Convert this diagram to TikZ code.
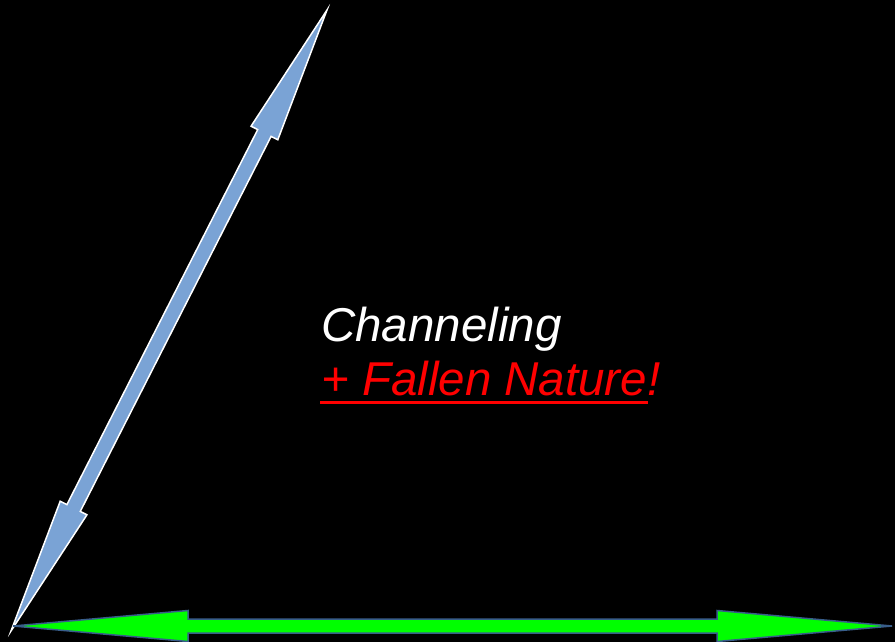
\documentclass[tikz,border=0pt]{standalone}
\usepackage{fontspec}
\setmainfont{Liberation Sans}
\usetikzlibrary{calc}
\definecolor{arrowblue}{RGB}{122,163,213}
\definecolor{outlineblue}{RGB}{56,93,138}
\definecolor{brightgreen}{RGB}{0,255,0}
\tikzset{
  bluearrow/.style={fill=arrowblue, draw=white, line width=1.5pt, line join=miter},
  greenarrow/.style={fill=brightgreen, draw=outlineblue, line width=1.5pt, line join=miter},
  label/.style={inner sep=0pt, anchor=base west, font=\fontsize{47.5}{57}\selectfont\itshape}
}
\begin{document}
\begin{tikzpicture}[x=1pt, y=-1pt]
\fill[black] (0,0) rectangle (895,642);
\useasboundingbox (0,0) rectangle (895,642);

% blue double arrow
\coordinate (A) at (11,631);
\coordinate (B) at (327,10);
\coordinate (a1) at ($(A)!138pt!(B)$);
\coordinate (b1) at ($(B)!138pt!(A)$);
\coordinate (a1h1) at ($(a1)!15pt!90:(B)$);
\coordinate (a1h2) at ($(a1)!15pt!-90:(B)$);
\coordinate (a1s1) at ($(a1)!7.5pt!90:(B)$);
\coordinate (a1s2) at ($(a1)!7.5pt!-90:(B)$);
\coordinate (b1h1) at ($(b1)!15pt!-90:(A)$);
\coordinate (b1h2) at ($(b1)!15pt!90:(A)$);
\coordinate (b1s1) at ($(b1)!7.5pt!-90:(A)$);
\coordinate (b1s2) at ($(b1)!7.5pt!90:(A)$);
\draw[bluearrow] (A) -- (a1h1) -- (a1s1) -- (b1s1) -- (b1h1) -- (B)
  -- (b1h2) -- (b1s2) -- (a1s2) -- (a1h2) -- cycle;

% green double arrow
\coordinate (L) at (13,626);
\coordinate (R) at (892,626);
\draw[greenarrow] (L) -- (188,610.5) -- (188,619) -- (717,619) -- (717,610.5) -- (R)
  -- (717,641.5) -- (717,633) -- (188,633) -- (188,641.5) -- cycle;

% text
\node[label, text=white] (line1) at (321,341) {Channeling};
\node[label, text=red] (line2) at (321,395) {+ Fallen Nature!};
\draw[red, line width=2.5pt] ($(line2.base west)+(-1,7.5)$) -- ($(line2.base west)+(327,7.5)$);
\end{tikzpicture}
\end{document}
